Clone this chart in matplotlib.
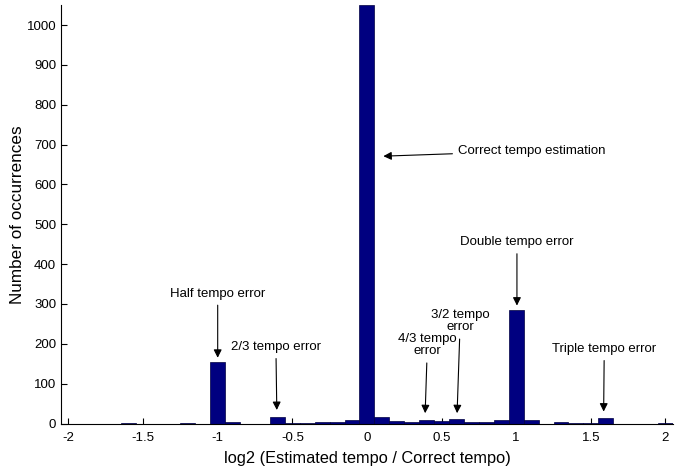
import matplotlib
matplotlib.use("Agg")
import matplotlib.pyplot as plt

plt.rcParams['font.family'] = ['Liberation Sans', 'DejaVu Sans']

bin_centers = [-2.0, -1.9, -1.8, -1.7, -1.6, -1.5, -1.4, -1.3, -1.2, -1.1,
               -1.0, -0.9, -0.8, -0.7, -0.6, -0.5, -0.4, -0.3, -0.2, -0.1,
               0.0, 0.1, 0.2, 0.3, 0.4, 0.5, 0.6, 0.7, 0.8, 0.9,
               1.0, 1.1, 1.2, 1.3, 1.4, 1.5, 1.6, 1.7, 1.8, 1.9, 2.0]
counts = [0, 0, 0, 0, 2, 0, 0, 0, 1, 0,
          155, 3, 0, 0, 16, 1, 2, 3, 3, 10,
          1050, 16, 7, 3, 10, 6, 12, 4, 4, 10,
          285, 8, 0, 4, 2, 1, 14, 0, 0, 0, 2]

xticks = [-2, -1.5, -1, -0.5, 0, 0.5, 1, 1.5, 2]
xticklabels = ['-2', '-1.5', '-1', '-0.5', '0', '0.5', '1', '1.5', '2']
yticks = [0, 100, 200, 300, 400, 500, 600, 700, 800, 900, 1000]

# annotations: (text, arrow tip x, arrow tip y, text x, text y, ha)
annotations = [
    ("Correct tempo estimation", 0.11, 671, 0.61, 684, 'left'),
    ("Double tempo error", 1.005, 296, 1.005, 440, 'center'),
    ("Half tempo error", -1.0, 165, -1.0, 311, 'center'),
    ("2/3 tempo error", -0.604, 34, -0.61, 177, 'center'),
    ("4/3 tempo\nerror", 0.39, 26, 0.405, 166, 'center'),
    ("3/2 tempo\nerror", 0.604, 26, 0.625, 226, 'center'),
    ("Triple tempo error", 1.586, 30, 1.59, 172, 'center'),
]

fig = plt.figure(figsize=(6.93, 4.68), dpi=100)
ax = fig.add_axes([0.088, 0.095, 0.883, 0.894])

ax.bar(bin_centers, counts, width=0.1, color='#000080', edgecolor='#000040',
       linewidth=0.5, zorder=2)

ax.set_xlim(-2.05, 2.05)
ax.set_ylim(0, 1050)
ax.set_xticks(xticks)
ax.set_xticklabels(xticklabels)
ax.set_yticks(yticks)
ax.tick_params(direction='in', length=4, labelsize=9.5, width=0.8)
ax.tick_params(axis='x', pad=6)
for s in ['top', 'right']:
    ax.spines[s].set_visible(False)

ax.set_xlabel('log2 (Estimated tempo / Correct tempo)', fontsize=11.8, labelpad=5)
ax.set_ylabel('Number of occurrences', fontsize=12.3, labelpad=1)

for text, tx, ty, lx, ly, ha in annotations:
    ax.annotate(text, xy=(tx, ty), xytext=(lx, ly), ha=ha,
                va='bottom' if ha == 'center' else 'center',
                fontsize=9.5, linespacing=1.05,
                arrowprops=dict(arrowstyle='-|>', color='black', lw=0.8,
                                mutation_scale=12, shrinkA=2, shrinkB=0))

fig.savefig('out.png', dpi=100)
